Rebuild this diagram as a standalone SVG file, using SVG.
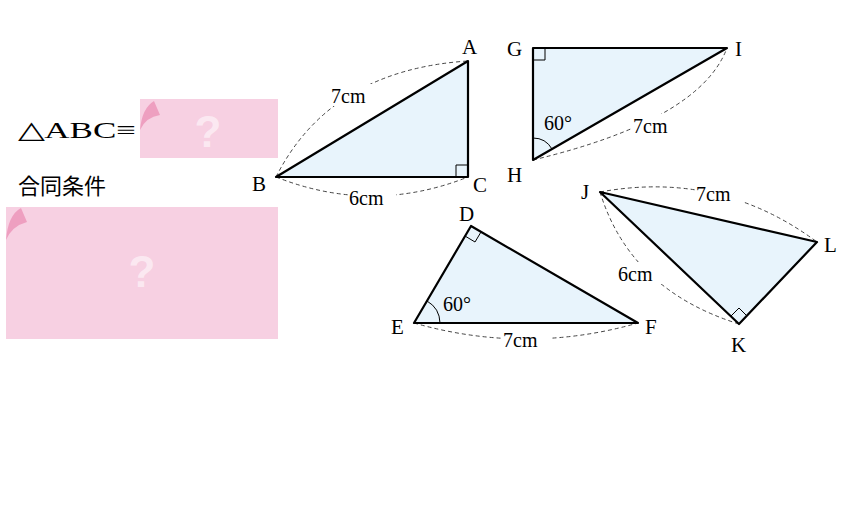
<svg xmlns="http://www.w3.org/2000/svg" width="850" height="507" viewBox="0 0 850 507">
<style>
.tri{fill:#e8f4fc;stroke:#000;stroke-width:2.2;stroke-linejoin:round}
.ra{fill:none;stroke:#000;stroke-width:1}
.dash{fill:none;stroke:#444;stroke-width:1;stroke-dasharray:4 3}
.t{font-family:"Liberation Serif",serif;font-size:21px;fill:#000}
.lbl{font-family:"Liberation Serif",serif;font-size:20px;fill:#000}
.bg{fill:#fff}
.note{fill:#f7d0e2}
.fold{fill:#ee9fc0}
.q{font-family:"Liberation Sans",sans-serif;font-weight:bold;fill:#fff;fill-opacity:0.55;text-anchor:middle;font-size:44px}
</style>
<rect width="850" height="507" fill="#fff"/>
<g id="connectors">
<path class="dash" d="M276,177 Q330,70 468,61"/>
<path class="dash" d="M276,177 Q372,215 468,177"/>
<path class="dash" d="M533,160 Q700,120 727,48"/>
<path class="dash" d="M414,323 Q526,355 638,323"/>
<path class="dash" d="M600,192 Q720,170 817,242"/>
<path class="dash" d="M600,192 Q630,290 739,324"/>
</g>
<g id="tri-ABC">
<polygon class="tri" points="468,61 276,177 468,177"/>
<polyline class="ra" points="456,177 456,165 468,165"/>
<text class="t" x="462" y="54">A</text>
<text class="t" x="252" y="191">B</text>
<text class="t" x="473" y="192">C</text>
<rect class="bg" x="330" y="84" width="48" height="22"/>
<text class="lbl" x="331" y="103">7cm</text>
<rect class="bg" x="348" y="186" width="48" height="22"/>
<text class="lbl" x="349" y="205">6cm</text>
</g>
<g id="tri-GHI">
<polygon class="tri" points="533,48 533,160 727,48"/>
<polyline class="ra" points="533,60 545,60 545,48"/>
<path class="ra" d="M533,138 A22,22 0 0 1 552,149"/>
<text class="t" x="507" y="56">G</text>
<text class="t" x="507" y="182">H</text>
<text class="t" x="735" y="56">I</text>
<text class="lbl" x="544" y="130">60°</text>
<rect class="bg" x="632" y="114" width="48" height="22"/>
<text class="lbl" x="633" y="133">7cm</text>
</g>
<g id="tri-DEF">
<polygon class="tri" points="471,226 414,323 638,323"/>
<polyline class="ra" points="465,236 475,242 481,232"/>
<path class="ra" d="M427,301 A26,26 0 0 1 440,323"/>
<text class="t" x="459" y="221">D</text>
<text class="t" x="391" y="334">E</text>
<text class="t" x="645" y="334">F</text>
<text class="lbl" x="443" y="311">60°</text>
<rect class="bg" x="502" y="328" width="48" height="22"/>
<text class="lbl" x="503" y="347">7cm</text>
</g>
<g id="tri-JKL">
<polygon class="tri" points="600,192 739,324 817,242"/>
<polyline class="ra" points="731,316 739,308 747,316"/>
<text class="t" x="581" y="199">J</text>
<text class="t" x="731" y="352">K</text>
<text class="t" x="824" y="252">L</text>
<rect class="bg" x="695" y="182" width="48" height="22"/>
<text class="lbl" x="696" y="201">7cm</text>
<rect class="bg" x="617" y="262" width="48" height="22"/>
<text class="lbl" x="618" y="281">6cm</text>
</g>
<g id="answer-congruent">
<text x="18" y="138" textLength="118" lengthAdjust="spacingAndGlyphs" style="font-family:'Liberation Serif',serif;font-size:24px">△ABC≡</text>
<rect x="142" y="102" width="8" height="10" fill="#555"/>
<rect class="note" x="140" y="99" width="138" height="59"/>
<path class="fold" d="M140,130 Q142,108 154,101 L160,115 Q146,117 140,130Z"/>
<text class="q" x="208" y="147">?</text>
</g>
<g id="conditions">
<text x="18" y="194" style="font-family:'Noto Sans CJK JP',sans-serif;font-size:22px">合同条件</text>
<rect class="note" x="6" y="207" width="272" height="132"/>
<path class="fold" d="M6,240 Q8,215 21,208 L27,222 Q12,226 6,240Z"/>
<text class="q" x="142" y="287">?</text>
</g>
</svg>
